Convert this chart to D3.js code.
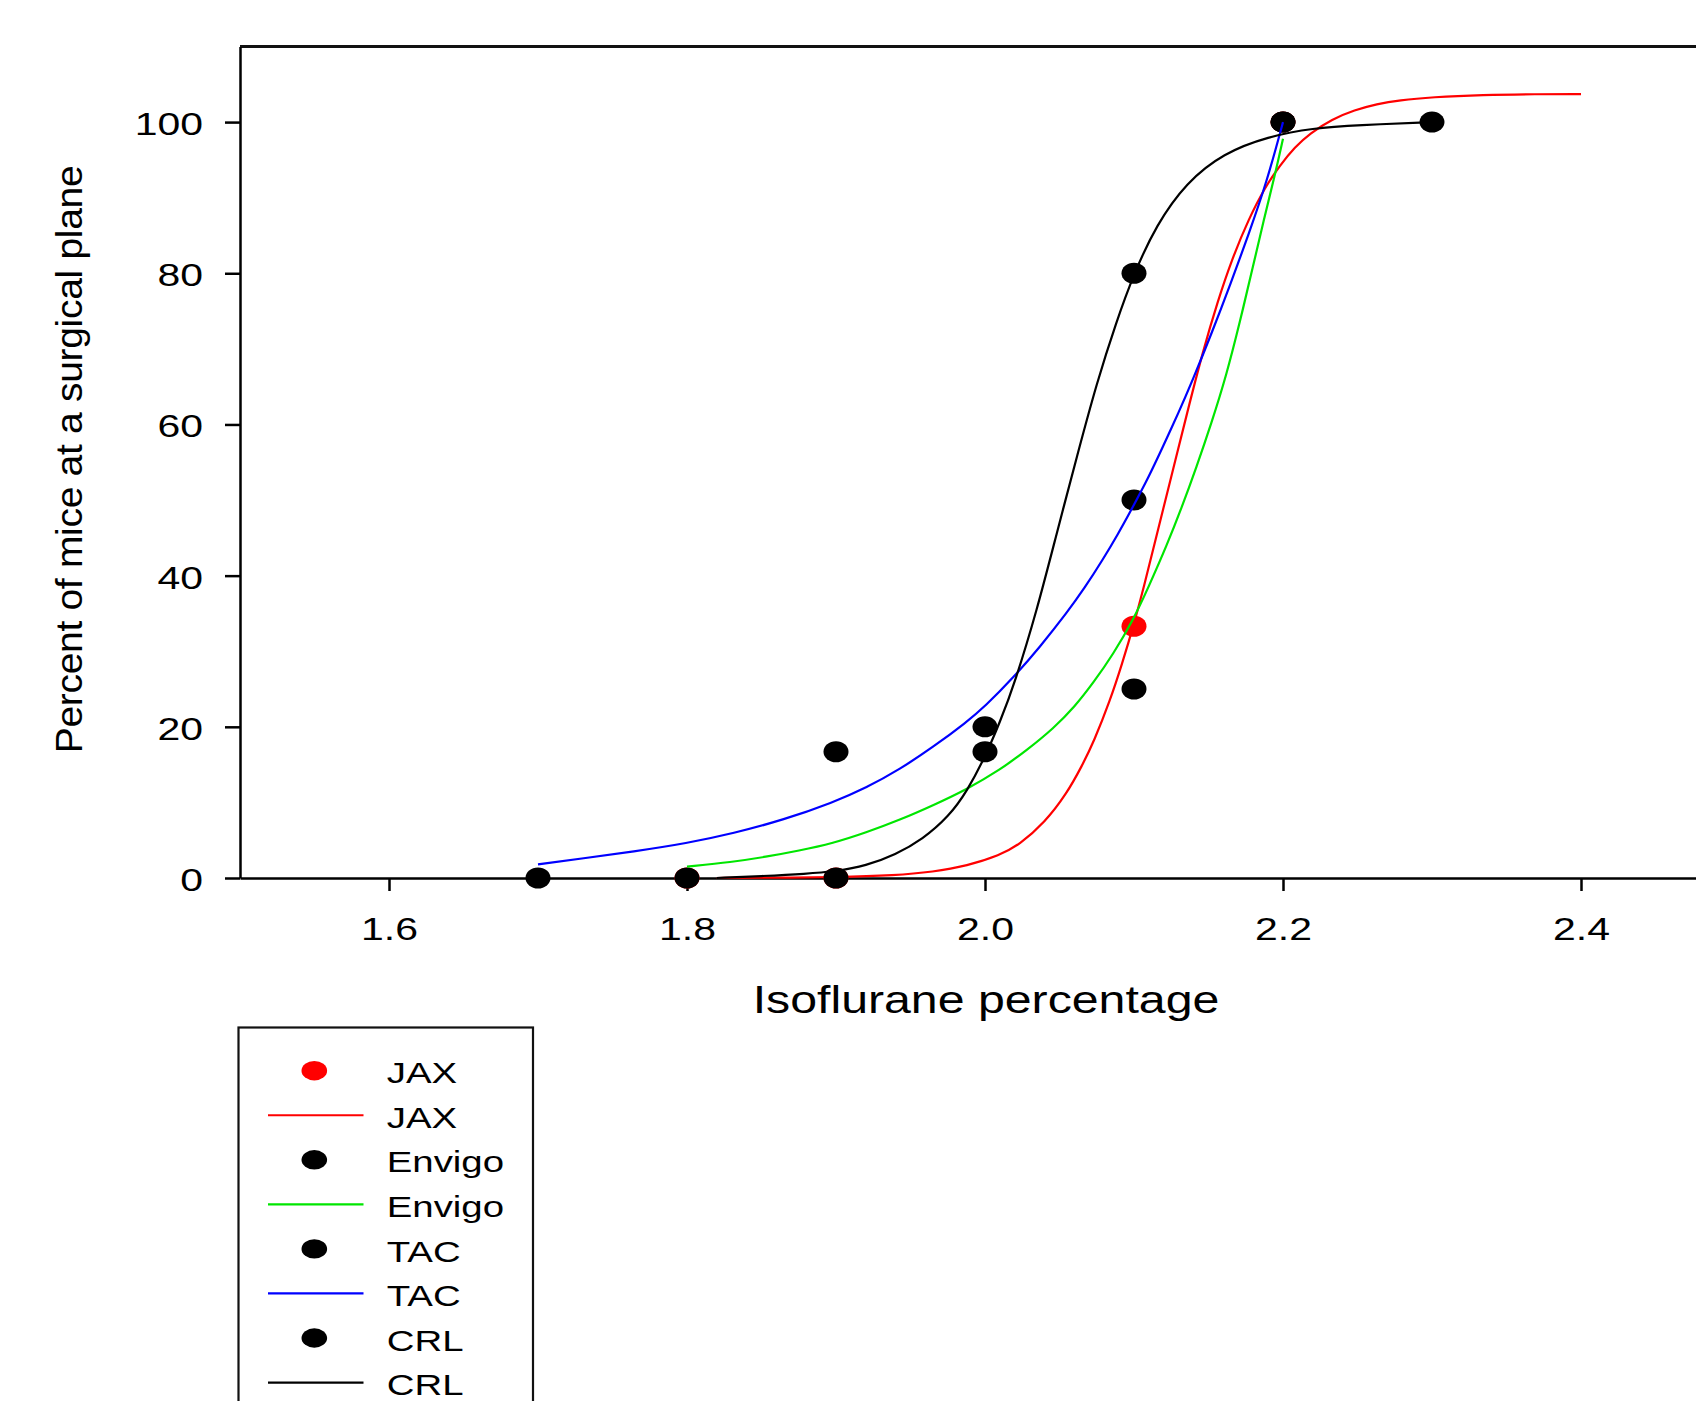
<!DOCTYPE html>
<html><head><meta charset="utf-8">
<script src="https://cdn.jsdelivr.net/npm/d3@7"></script>
<style>html,body{margin:0;padding:0;background:#fff;overflow:hidden} svg{display:block}</style>
</head><body>
<svg id="chart" width="1696" height="1401"></svg>
<script>
// ---------- data ----------
const xTicks = [1.6, 1.8, 2.0, 2.2, 2.4];
const yTicks = [0, 20, 40, 60, 80, 100];
const seriesNames = ["JAX", "Envigo", "TAC", "CRL"];
const xTitle = "Isoflurane percentage";
const yTitle = "Percent of mice at a surgical plane";

// observed points
const jaxX = [1.8, 1.9, 2.1, 2.2];
const jaxY = [0, 0, 33.3, 100];
const envigoX = [1.8, 2.0, 2.1, 2.2];
const envigoY = [0, 16.7, 25, 100];
const tacX = [1.7, 1.9, 2.0, 2.1, 2.2];
const tacY = [0, 16.7, 20, 50, 100];
const crlX = [1.9, 2.1, 2.3];
const crlY = [0, 80, 100];

// fitted curves
const jaxFitX = [1.82, 1.86, 1.90, 1.94, 1.965, 1.988, 2.01, 2.023, 2.04, 2.055, 2.065, 2.073, 2.084, 2.092, 2.10, 2.107, 2.113, 2.124, 2.136, 2.146, 2.156, 2.166, 2.177, 2.188, 2.198, 2.208, 2.218, 2.233, 2.248, 2.263, 2.278, 2.30, 2.334, 2.37, 2.40];
const jaxFitY = [0.0, 0.04, 0.1, 0.35, 0.8, 1.6, 3.0, 4.4, 7.3, 11.2, 14.8, 18.0, 23.5, 28.3, 33.6, 38.8, 43.6, 52.3, 61.8, 69.5, 76.2, 82.0, 87.2, 91.4, 94.3, 96.7, 98.5, 100.4, 101.6, 102.4, 102.9, 103.3, 103.6, 103.7, 103.7];
const envigoFitX = [1.80, 1.83, 1.853, 1.875, 1.898, 1.92, 1.943, 1.965, 1.9875, 2.01, 2.028, 2.046, 2.06, 2.073, 2.086, 2.0994, 2.11, 2.122, 2.132, 2.142, 2.152, 2.162, 2.171, 2.18, 2.187, 2.194, 2.20];
const envigoFitY = [1.5, 2.1, 2.8, 3.6, 4.6, 6.0, 7.7, 9.6, 11.7, 14.3, 16.9, 19.8, 22.6, 25.9, 29.6, 34.1, 38.6, 44.0, 49.0, 54.4, 60.2, 66.5, 73.5, 81.0, 87.0, 92.5, 97.8];
const tacFitX = [1.70, 1.73, 1.764, 1.80, 1.831, 1.865, 1.898, 1.92, 1.943, 1.965, 1.9875, 2.00, 2.019, 2.037, 2.055, 2.067, 2.079, 2.089, 2.099, 2.11, 2.1195, 2.13, 2.139, 2.152, 2.165, 2.177, 2.189, 2.20];
const tacFitY = [1.8, 2.6, 3.5, 4.6, 5.9, 7.7, 10.0, 11.9, 14.4, 17.3, 20.6, 22.7, 26.5, 30.6, 35.1, 38.4, 42.1, 45.4, 49.0, 53.1, 57.1, 61.6, 65.7, 72.0, 78.7, 85.2, 92.0, 100];
const crlFitX = [1.82, 1.85, 1.88, 1.90, 1.92, 1.94, 1.958, 1.976, 1.988, 2.00, 2.01, 2.02, 2.035, 2.048, 2.062, 2.075, 2.088, 2.10, 2.115, 2.135, 2.16, 2.19, 2.22, 2.25, 2.30];
const crlFitY = [0.0, 0.25, 0.55, 0.9, 1.6, 3.1, 5.1, 8.2, 11.5, 16.0, 20.6, 25.8, 35.5, 45.5, 56.0, 65.5, 73.5, 80.0, 86.4, 92.0, 95.9, 98.1, 99.2, 99.6, 100.0];

// ---------- styles ----------
const pointColors = ["#ff0000", "#000000", "#000000", "#000000"];
const lineColors = ["#ff0000", "#00e600", "#0000ff", "#000000"];
const FONT = "'Liberation Sans', Arial, Helvetica, sans-serif";
const SX = 1.28;

const series = [
  {px: jaxX, py: jaxY, fx: jaxFitX, fy: jaxFitY},
  {px: envigoX, py: envigoY, fx: envigoFitX, fy: envigoFitY},
  {px: tacX, py: tacY, fx: tacFitX, fy: tacFitY},
  {px: crlX, py: crlY, fx: crlFitX, fy: crlFitY}
];

const svg = d3.select("#chart");
svg.append("rect").attr("width", 1696).attr("height", 1401).attr("fill", "#fff");

const x = d3.scaleLinear().domain([1.5, 2.5]).range([240, 1730]);
const y = d3.scaleLinear().domain([0, 110]).range([878, 46.5]);

// frame top/right
svg.append("path")
  .attr("d", `M${x(1.5)},${y(110)}H${x(2.5)}V${y(0)}`)
  .attr("fill", "none").attr("stroke", "#111").attr("stroke-width", 3);

// y axis
const gy = svg.append("g").attr("transform", `translate(${x(1.5)},0)`)
  .call(d3.axisLeft(y).tickValues(yTicks).tickSize(15).tickSizeOuter(0).tickFormat(d3.format("d")));
gy.select(".domain").attr("stroke", "#000").attr("stroke-width", 2.5);
gy.selectAll(".tick line").attr("stroke", "#000").attr("stroke-width", 2.5);
gy.selectAll(".tick text")
  .attr("x", null).attr("dy", null)
  .attr("transform", `translate(-37,12.5) scale(${SX},1)`)
  .attr("font-family", FONT).attr("font-size", 32).attr("fill", "#000")
  .attr("text-anchor", "end");

// x axis
const gx = svg.append("g").attr("transform", `translate(0,${y(0)})`)
  .call(d3.axisBottom(x).tickValues(xTicks).tickSize(13).tickSizeOuter(0).tickFormat(d3.format(".1f")));
gx.select(".domain").attr("stroke", "#000").attr("stroke-width", 2.5);
gx.selectAll(".tick line").attr("stroke", "#000").attr("stroke-width", 2.5);
gx.selectAll(".tick text")
  .attr("y", null).attr("dy", null)
  .attr("transform", `translate(0,62) scale(${SX},1)`)
  .attr("font-family", FONT).attr("font-size", 32).attr("fill", "#000")
  .attr("text-anchor", "middle");
gy.attr("font-family", null); gx.attr("font-family", null);

// titles
svg.append("text")
  .attr("transform", `translate(986,1013) scale(1.27,1)`)
  .attr("text-anchor", "middle").attr("font-family", FONT).attr("font-size", 38)
  .text(xTitle);
svg.append("text")
  .attr("transform", `translate(82,459.5) rotate(-90) scale(1.07,1)`)
  .attr("text-anchor", "middle").attr("font-family", FONT).attr("font-size", 36.5)
  .attr("letter-spacing", -0.3)
  .text(yTitle);

// series
const line = d3.line().x(d => x(d[0])).y(d => y(d[1])).curve(d3.curveBasis);
series.forEach((s, i) => {
  const pts = s.px.map((v, k) => [v, s.py[k]]);
  svg.append("g").selectAll("ellipse").data(pts).join("ellipse")
    .attr("cx", d => x(d[0])).attr("cy", d => y(d[1]))
    .attr("rx", 12.5).attr("ry", 10.5).attr("fill", pointColors[i]);
  const fit = s.fx.map((v, k) => [v, s.fy[k]]);
  svg.append("path").datum(fit).attr("d", line)
    .attr("fill", "none").attr("stroke", lineColors[i]).attr("stroke-width", 2.2)
    .attr("stroke-linejoin", "round");
});

// legend
const lg = svg.append("g");
lg.append("rect").attr("x", 238.5).attr("y", 1027.5).attr("width", 294.5).attr("height", 420)
  .attr("fill", "#fff").attr("stroke", "#111").attr("stroke-width", 2.2);
const rowY0 = 1070.7, rowStep = 44.55;
seriesNames.forEach((name, i) => {
  const yd = rowY0 + (2 * i) * rowStep;
  const yl = rowY0 + (2 * i + 1) * rowStep;
  lg.append("ellipse").attr("cx", 314.3).attr("cy", yd).attr("rx", 12.8).attr("ry", 9.7).attr("fill", pointColors[i]);
  lg.append("line").attr("x1", 268).attr("x2", 363.5).attr("y1", yl).attr("y2", yl)
    .attr("stroke", lineColors[i]).attr("stroke-width", 2.2);
  [yd, yl].forEach(yy => {
    lg.append("text").attr("transform", `translate(386.7,${yy + 12.6}) scale(${SX},1)`)
      .attr("font-family", FONT).attr("font-size", 30).attr("fill", "#000").text(name);
  });
});
</script>
</body></html>
